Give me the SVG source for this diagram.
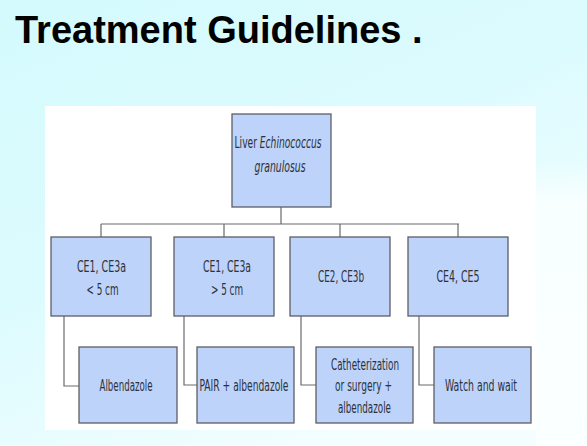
<svg xmlns="http://www.w3.org/2000/svg" width="587" height="446" viewBox="0 0 587 446">
<defs>
<linearGradient id="bg" x1="0" y1="0" x2="0.6" y2="1">
<stop offset="0" stop-color="#d4fafd"/>
<stop offset="0.5" stop-color="#dcfbfe"/>
<stop offset="1" stop-color="#f4feff"/>
</linearGradient>
<linearGradient id="rs" x1="0" y1="0" x2="0" y2="1">
<stop offset="0" stop-color="#f6feff" stop-opacity="0"/>
<stop offset="0.15" stop-color="#f8ffff" stop-opacity="1"/>
<stop offset="1" stop-color="#fbffff"/>
</linearGradient>
<style>
.box{fill:#bdd3fa;stroke:#5c5f66;stroke-width:1.3}
.t{font-family:"DejaVu Sans Condensed","Liberation Sans",sans-serif;font-size:16px;fill:#2e3138;text-anchor:middle}
.c{fill:none;stroke:#6a6a6a;stroke-width:1.2}
</style>
</defs>
<rect x="0" y="0" width="587" height="446" fill="url(#bg)"/>
<rect x="536" y="160" width="51" height="286" fill="url(#rs)"/>
<text x="15" y="43" font-family="Liberation Sans, Arial, sans-serif" font-weight="bold" font-size="38" fill="#000">Treatment Guidelines .</text>
<rect x="45" y="106" width="491" height="324" fill="#ffffff"/>
<g id="connectors">
<path class="c" d="M281 207V224M101 224H459M101 224V237M224 224V237M340 224V237M458 224V237"/>
<path class="c" d="M64 316V386H79M184 316V385H197M301 316V385H316M419 316V385H434"/>
</g>
<g id="root">
<rect class="box" x="232" y="114" width="99" height="93"/>
<text class="t" transform="translate(278,148) scale(0.635,1)">Liver <tspan font-style="italic">Echinococcus</tspan></text>
<text class="t" x="280" y="172" font-style="italic" textLength="51" lengthAdjust="spacingAndGlyphs">granulosus</text>
</g>
<g id="ce1a-small">
<rect class="box" x="51" y="237" width="100" height="79"/>
<text class="t" x="101.5" y="272" textLength="49" lengthAdjust="spacingAndGlyphs">CE1, CE3a</text>
<text class="t" x="102.5" y="295" textLength="32" lengthAdjust="spacingAndGlyphs">&lt; 5 cm</text>
</g>
<g id="ce1a-large">
<rect class="box" x="174" y="237" width="100" height="79"/>
<text class="t" x="227" y="272" textLength="48" lengthAdjust="spacingAndGlyphs">CE1, CE3a</text>
<text class="t" x="227" y="295" textLength="32" lengthAdjust="spacingAndGlyphs">&gt; 5 cm</text>
</g>
<g id="ce2-3b">
<rect class="box" x="290" y="237" width="100" height="79"/>
<text class="t" x="341" y="282" textLength="46" lengthAdjust="spacingAndGlyphs">CE2, CE3b</text>
</g>
<g id="ce4-5">
<rect class="box" x="408" y="237" width="100" height="79"/>
<text class="t" x="458" y="282" textLength="43" lengthAdjust="spacingAndGlyphs">CE4, CE5</text>
</g>
<g id="albendazole">
<rect class="box" x="79" y="347" width="98" height="76"/>
<text class="t" x="126" y="391" textLength="53" lengthAdjust="spacingAndGlyphs">Albendazole</text>
</g>
<g id="pair">
<rect class="box" x="197" y="347" width="97" height="76"/>
<text class="t" x="244" y="391" textLength="89" lengthAdjust="spacingAndGlyphs">PAIR + albendazole</text>
</g>
<g id="catheterization">
<rect class="box" x="316" y="347" width="97" height="76"/>
<text class="t" x="365" y="370" textLength="68" lengthAdjust="spacingAndGlyphs">Catheterization</text>
<text class="t" x="363.5" y="391" textLength="57" lengthAdjust="spacingAndGlyphs">or surgery +</text>
<text class="t" x="364.5" y="413" textLength="53" lengthAdjust="spacingAndGlyphs">albendazole</text>
</g>
<g id="watch">
<rect class="box" x="434" y="347" width="97" height="76"/>
<text class="t" x="481" y="391" textLength="72" lengthAdjust="spacingAndGlyphs">Watch and wait</text>
</g>
</svg>
